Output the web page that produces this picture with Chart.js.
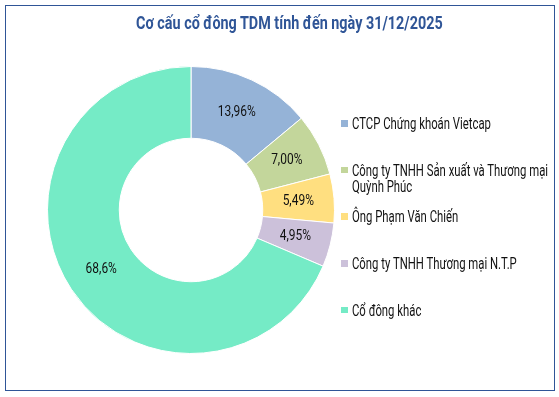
<!DOCTYPE html>
<html>
<head>
<meta charset="utf-8">
<script src="https://cdn.jsdelivr.net/npm/chart.js@4/dist/chart.umd.min.js"></script>
<style>
  html, body { margin: 0; padding: 0; background: #ffffff; }
  body { width: 559px; height: 397px; position: relative; overflow: hidden; font-family: Roboto, sans-serif; }
  #frame { position: absolute; left: 5px; top: 5px; width: 550px; height: 386px; box-sizing: border-box;
           border: 1.5px solid #2F5597; }
  #title { position: absolute; left: 136px; top: 13px; font-size: 19px; line-height: 19px;
           font-weight: bold; color: #2F5597; white-space: nowrap; transform-origin: left top; }
  #wrap { position: absolute; left: 0; top: 0; width: 559px; height: 397px; }
  #legend { position: absolute; left: 0; top: 0; }
  .item { position: absolute; left: 341px; width: 210px; font-size: 16px; line-height: 16px; color: #111111; }
  .item .box { position: absolute; left: 0; top: 4.2px; width: 6.5px; height: 6.7px; }
  .item .txt { position: absolute; left: 11.3px; top: 0; transform-origin: left top; }
</style>
</head>
<body>
<div id="frame"></div>
<div id="wrap"><canvas id="c"></canvas></div>
<div id="title"></div>
<div id="legend"></div>
<script>
const chartTitle = "Cơ cấu cổ đông TDM tính đến ngày 31/12/2025";
const categories = [
  "CTCP Chứng khoán Vietcap",
  "Công ty TNHH Sản xuất và Thương mại Quỳnh Phúc",
  "Ông Phạm Văn Chiến",
  "Công ty TNHH Thương mại N.T.P",
  "Cổ đông khác"
];
const shares = [13.96, 7.00, 5.49, 4.95, 68.6];
const shareLabels = ["13,96%", "7,00%", "5,49%", "4,95%", "68,6%"];
const sliceColors = ["#95B3D7", "#C3D69B", "#FFDF80", "#CCC1DA", "#75EBC6"];

const FONT = 'Roboto, sans-serif';

// condensed look: horizontal squeeze factors from text measurement
const mctx = document.createElement('canvas').getContext('2d');
function squeeze(text, font, target) {
  mctx.font = font;
  return target / mctx.measureText(text).width;
}
const titleScale = squeeze(chartTitle, 'bold 19px ' + FONT, 307);
const legendScale = (squeeze(categories[0], '16px ' + FONT, 145) + squeeze(categories[3], '16px ' + FONT, 158)) / 2;
const labelScale = squeeze(shareLabels[0], '14px ' + FONT, 38);

const titleEl = document.getElementById('title');
titleEl.textContent = chartTitle;
titleEl.style.transform = 'scaleX(' + titleScale + ')';

const labelPlugin = {
  id: 'sliceLabels',
  afterDatasetsDraw(chart) {
    const ctx = chart.ctx;
    const meta = chart.getDatasetMeta(0);
    ctx.save();
    ctx.font = '14px ' + FONT;
    ctx.fillStyle = '#111111';
    ctx.textAlign = 'center';
    ctx.textBaseline = 'middle';
    meta.data.forEach((arc, i) => {
      const p = arc.getProps(['x', 'y', 'startAngle', 'endAngle', 'innerRadius', 'outerRadius'], true);
      const mid = (p.startAngle + p.endAngle) / 2;
      const r = (p.innerRadius + p.outerRadius) / 2;
      ctx.save();
      ctx.translate(p.x + Math.cos(mid) * r, p.y + Math.sin(mid) * r);
      ctx.scale(labelScale, 1);
      ctx.fillText(shareLabels[i], 0, 0);
      ctx.restore();
    });
    ctx.restore();
  }
};

const chart = new Chart(document.getElementById('c'), {
  type: 'doughnut',
  data: {
    labels: categories,
    datasets: [{
      data: shares,
      backgroundColor: sliceColors,
      borderColor: '#ffffff',
      borderWidth: 1
    }]
  },
  options: {
    responsive: true,
    maintainAspectRatio: false,
    animation: false,
    cutout: '50%',
    layout: { padding: { left: 47, top: 66, right: 224, bottom: 43 } },
    plugins: {
      legend: { display: false },
      tooltip: { enabled: false },
      title: { display: false }
    }
  },
  plugins: [labelPlugin]
});

// HTML legend built from the chart's data
const legendEl = document.getElementById('legend');
categories.forEach((name, i) => {
  const item = document.createElement('div');
  item.className = 'item';
  item.style.top = (115.8 + i * 46.7) + 'px';
  const box = document.createElement('div');
  box.className = 'box';
  box.style.background = sliceColors[i];
  const txt = document.createElement('div');
  txt.className = 'txt';
  txt.style.width = (200 / legendScale) + 'px';
  txt.style.transform = 'scaleX(' + legendScale + ')';
  txt.textContent = name;
  item.appendChild(box);
  item.appendChild(txt);
  legendEl.appendChild(item);
});
</script>
</body>
</html>
